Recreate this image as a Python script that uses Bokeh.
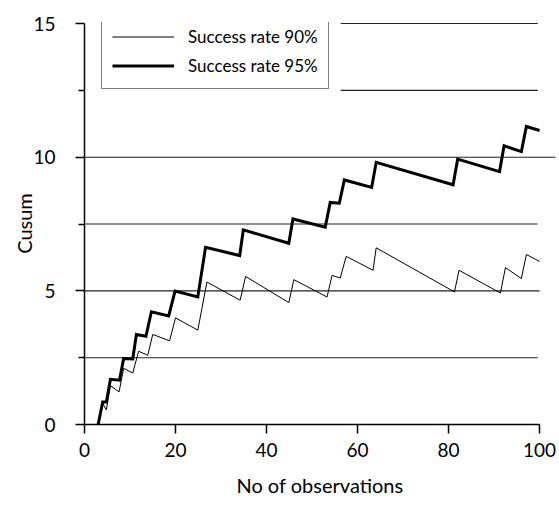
from bokeh.plotting import figure
from bokeh.models import Range1d, FixedTicker, Legend, LegendItem
from bokeh.embed import file_html
from bokeh.resources import INLINE

# --- data ---
obs_95 = [3.0, 4.0, 4.8, 5.7, 7.7, 8.6, 10.6, 11.4, 13.5, 14.7, 18.5, 19.9, 24.9, 26.6,
          34.1, 34.9, 44.9, 45.8, 52.9, 54.0, 56.0, 57.1, 63.1, 64.1, 81.0, 82.0,
          91.2, 92.2, 96.0, 97.1, 100.0]
cusum_95 = [0.0, 0.84, 0.84, 1.69, 1.66, 2.47, 2.45, 3.37, 3.30, 4.22, 4.06, 4.99, 4.77, 6.63,
            6.32, 7.28, 6.78, 7.69, 7.38, 8.31, 8.28, 9.15, 8.87, 9.81, 8.97, 9.93,
            9.46, 10.43, 10.21, 11.15, 11.0]

obs_90 = [3.0, 4.0, 4.8, 5.7, 7.6, 8.6, 10.6, 11.9, 13.9, 15.0, 18.7, 20.0, 24.9, 26.9,
          34.2, 35.4, 44.9, 46.0, 53.3, 54.4, 56.2, 57.5, 63.4, 64.1, 81.3, 82.3,
          91.4, 92.5, 96.0, 97.1, 100.0]
cusum_90 = [0.0, 0.78, 0.55, 1.45, 1.22, 2.10, 1.93, 2.74, 2.59, 3.37, 3.13, 3.99, 3.53, 5.33,
            4.65, 5.54, 4.56, 5.42, 4.77, 5.58, 5.48, 6.29, 5.77, 6.61, 4.96, 5.77,
            4.92, 5.87, 5.46, 6.36, 6.10]

# horizontal reference lines (level, from, to)
ref_levels = [2.5, 5.0, 7.5, 10.0, 12.5, 15.0]
ref_from = [0, 0, 0, 0, 56.3, 56.3]
ref_to = [99.6, 100.0, 99.6, 104.0, 99.6, 99.6]

x_ticks = [0, 20, 40, 60, 80, 100]
y_ticks = [0, 5, 10, 15]
y_minor = [2.5, 7.5, 12.5]

FONT = "Lato"

p = figure(frame_width=471, frame_height=402, min_border_left=84, min_border_top=22,
           min_border_right=1, min_border_bottom=80,
           x_range=Range1d(0, 103.5), y_range=Range1d(0, 15.04),
           output_backend="svg", toolbar_location=None, tools="")
p.outline_line_color = None
p.xgrid.visible = False
p.ygrid.visible = False

p.segment(x0=ref_from, y0=ref_levels, x1=ref_to, y1=ref_levels,
          line_color="#222222", line_width=1.1)

r90 = p.line(obs_90, cusum_90, line_color="black", line_width=1.0)
r95 = p.line(obs_95, cusum_95, line_color="black", line_width=3.0, line_join="miter")

# axes
p.xaxis.bounds = (0, 100)
p.xaxis.ticker = FixedTicker(ticks=x_ticks)
p.yaxis.bounds = (0, 15)
p.yaxis.ticker = FixedTicker(ticks=y_ticks, minor_ticks=y_minor)
for ax in (p.xaxis[0], p.yaxis[0]):
    ax.axis_line_color = "black"
    ax.axis_line_width = 1.5
    ax.major_tick_line_color = "black"
    ax.major_tick_line_width = 1.5
    ax.major_tick_out = 9
    ax.major_tick_in = 0
    ax.major_label_text_font = FONT
    ax.major_label_text_font_size = "19px"
    ax.major_label_text_color = "black"
    ax.axis_label_text_font = FONT
    ax.axis_label_text_font_size = "20px"
    ax.axis_label_text_font_style = "normal"
    ax.axis_label_text_color = "black"
p.xaxis.minor_tick_line_color = None
p.yaxis.minor_tick_line_color = "black"
p.yaxis.minor_tick_line_width = 1.5
p.yaxis.minor_tick_out = 6
p.yaxis.minor_tick_in = 0
p.xaxis.major_label_standoff = 9
p.yaxis.major_label_standoff = 20
p.xaxis.axis_label = "No of observations"
p.yaxis.axis_label = "Cusum"
p.xaxis.axis_label_standoff = 13
p.yaxis.axis_label_standoff = -6

legend = Legend(items=[LegendItem(label="Success rate 90%", renderers=[r90]),
                       LegendItem(label="Success rate 95%", renderers=[r95])],
                location=(17, 335), margin=0, padding=10, spacing=4,
                glyph_width=62, glyph_height=25, label_height=25,
                label_standoff=14,
                label_text_font=FONT, label_text_font_size="17px",
                label_text_color="black",
                border_line_color="black", border_line_width=1.2,
                background_fill_color="white", background_fill_alpha=1.0)
p.add_layout(legend, "center")

open("out.html", "w").write(file_html(p, INLINE))
